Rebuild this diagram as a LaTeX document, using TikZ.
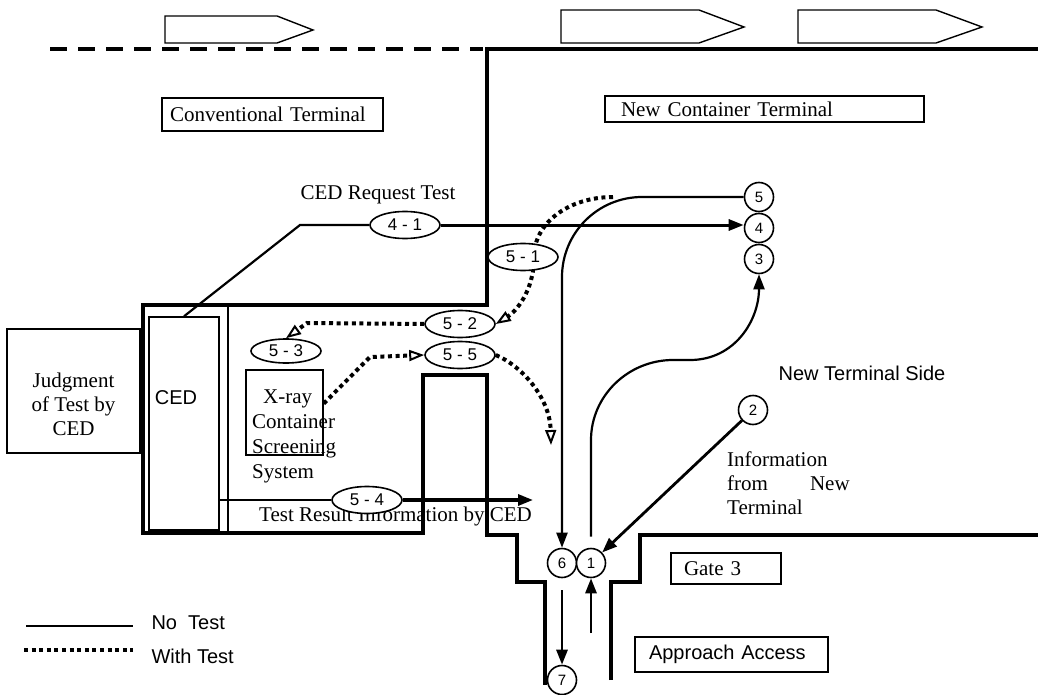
\documentclass[tikz,border=0pt]{standalone}
\usepackage{fontspec}
\setmainfont{Liberation Serif}
\setsansfont{Liberation Sans}
\usetikzlibrary{arrows.meta,shapes.geometric}
\newcommand\txtserif{\fontsize{21}{24}\selectfont}
\newcommand\txtsans{\sffamily\fontsize{20}{24}\selectfont}
\newcommand\txttag{\sffamily\fontsize{17}{18}\selectfont}
\newcommand\txtnum{\sffamily\fontsize{15}{16}\selectfont}

\begin{document}
\begin{tikzpicture}[x=1pt, y=-1pt,
  wall/.style={line width=3.6pt},
  thinwall/.style={line width=1.4pt},
  ship/.style={line width=1.4pt, line join=miter},
  flow/.style={line width=2.2pt},
  tested/.style={line width=4pt, dash pattern=on 4pt off 3.6pt},
  tip/.style={-{Triangle[length=15pt,width=11pt]}},
  otip/.style={-{Triangle[open,length=15pt,width=11pt,line width=2pt]}},
  tbox/.style={draw, line width=1.4pt, inner ysep=0pt, align=left},
  stepmark/.style={ellipse, draw, fill=white, line width=1.6pt, minimum width=70pt, minimum height=27pt, inner sep=0pt, font=\txttag},
  num/.style={circle, draw, fill=white, line width=1.6pt, minimum size=29pt, inner sep=0pt, font=\txtnum},
]
\useasboundingbox (0,0) rectangle (1038,695);
% ships
\foreach \xa/\xb/\xc/\yt/\ym in {165/277/313/16/30, 561/699/744/10/27, 798/936/982/10/27}
  \draw[ship] (\xa,\yt) -- (\xb,\yt) -- (\xc,\ym) -- (\xb,43) -- (\xa,43) -- cycle;
% quay and walls
\draw[line width=3.6pt, dash pattern=on 17pt off 11pt] (50,49) -- (483,49);
\draw[wall] (1038,49) -- (487,49) -- (487,305) -- (143,305) -- (143,533) -- (423,533)
  -- (423,375) -- (487,375) -- (487,535) -- (517,535) -- (517,582) -- (545,582) -- (545,685);
\draw[wall] (611,680) -- (611,582) -- (640,582) -- (640,535) -- (1038,535);
\draw[thinwall] (228,305) -- (228,533);
% area labels
\node[tbox, minimum width=221pt, minimum height=33pt, inner xsep=8pt, text width=205pt, font=\txtserif] (conv) at (272.5,114.5) {Conventional Terminal};
\node[tbox, minimum width=319pt, minimum height=26pt, inner xsep=16pt, text width=287pt, font=\txtserif] (newct) at (764.5,109) {New Container Terminal};
\node[tbox, minimum width=110pt, minimum height=31pt, inner xsep=13pt, text width=84pt, font=\txtserif] (gate) at (726,568.5) {Gate 3};
\node[tbox, minimum width=193pt, minimum height=35pt, inner xsep=14pt, text width=165pt, font=\txtsans] (appr) at (731.5,654.5) {Approach Access};
\node[font=\txtsans] (side) at (862,373) {New Terminal Side};
% CED side
\node[draw, line width=1.4pt, minimum width=133pt, minimum height=124pt] (judge) at (73.5,391) {};
\node[font=\txtserif, align=center, inner sep=0pt] (judgetxt) at (73.5,404) {Judgment\\of Test by\\CED};
\node[draw, line width=1.4pt, minimum width=70pt, minimum height=213pt] (ced) at (184,423.5) {};
\node[font=\txtsans] (cedtxt) at (176,398) {CED};
\node[draw, line width=1.4pt, minimum width=77pt, minimum height=85pt] (xray) at (284.5,412.5) {};
\node[font=\fontsize{21}{24.7}\selectfont, align=left, anchor=north west, inner sep=0pt] (xraytxt) at (252,390) {\hspace*{11pt}X-ray\\Container\\Screening\\System};
\node[font=\txtserif] (reqtxt) at (378,195) {CED Request Test};
\node[font=\txtserif] (restxt) at (395.5,516) {Test Result Information by CED};
\node[font=\txtserif, align=left, anchor=north west, inner sep=0pt] (infotxt) at (727,452) {Information\\from\hspace{42pt}New\\Terminal};
% steps
\node[stepmark] (e41) at (405,225) {4 - 1};
\node[stepmark] (e52) at (460,324) {5 - 2};
\node[stepmark] (e55) at (460,355) {5 - 5};
\node[stepmark, minimum height=24pt] (e53) at (286,351) {5 - 3};
\node[stepmark] (e54) at (367,500) {5 - 4};
\node[num] (c5) at (759,197) {5};
\node[num] (c4) at (759,228) {4};
\node[num] (c3) at (759,259) {3};
\node[num] (c2) at (753,410) {2};
\node[num] (c6) at (562,563) {6};
\node[num] (c1) at (591,563) {1};
\node[num] (c7) at (562,680) {7};
\coordinate (bend) at (300,225);
\coordinate (gatein) at (591,633);
\coordinate (gateout) at (562,590);
\coordinate (toroad) at (533,500);
\coordinate (toside) at (551,445);
\coordinate (fromquay) at (613,197);
% no test
\draw[flow] (ced.north) -- (bend) -- (e41.west);
\draw[flow, line width=3pt, tip] (e41.east) -- (e41.east -| c4.west);
\draw[flow, tip, rounded corners=80pt] (c5.west) -- (562,197) -- (c6.north);
\draw[flow, tip] ([yshift=11pt]c1.north) -- (591,440) .. controls (591,396) and (628,360) .. (673,360)
  -- (690,360) .. controls (735,360) and (759,320) .. (c3.south);
\draw[flow, line width=2.8pt, tip] (c2) -- (c1);
\draw[flow, line width=2.8pt, tip] (gatein) -- (c1.south);
\draw[flow, line width=2.8pt, tip] (gateout) -- (c7.north);
\draw[flow] (ced.east |- e54.west) -- (e54.west);
\draw[flow, line width=3.2pt, tip] (e54.east) -- (toroad);
% with test
\draw[tested, otip] (fromquay) .. controls (570,197) and (534,222) .. (534,257)
  .. controls (534,292) and (515,312) .. (e52.east);
\node[stepmark] (e51) at (523,257) {5 - 1};
\draw[tested, otip] (e52.west) -- (307,323) -- (e53.north);
\draw[tested, otip] ([yshift=9pt]xray.east) -- (370,357) -- (e55.west);
\draw[tested, otip] (e55.east) .. controls (522,366) and (550,398) .. (toside);
% legend
\draw[flow, line width=2.4pt] (26,626) -- (133,626);
\node[font=\txtsans, anchor=west] (legno) at (148,623) {No\ \ Test};
\draw[tested] (24,650) -- (133,650);
\node[font=\txtsans, anchor=west] (legwith) at (148,656) {With Test};
\end{tikzpicture}
\end{document}
